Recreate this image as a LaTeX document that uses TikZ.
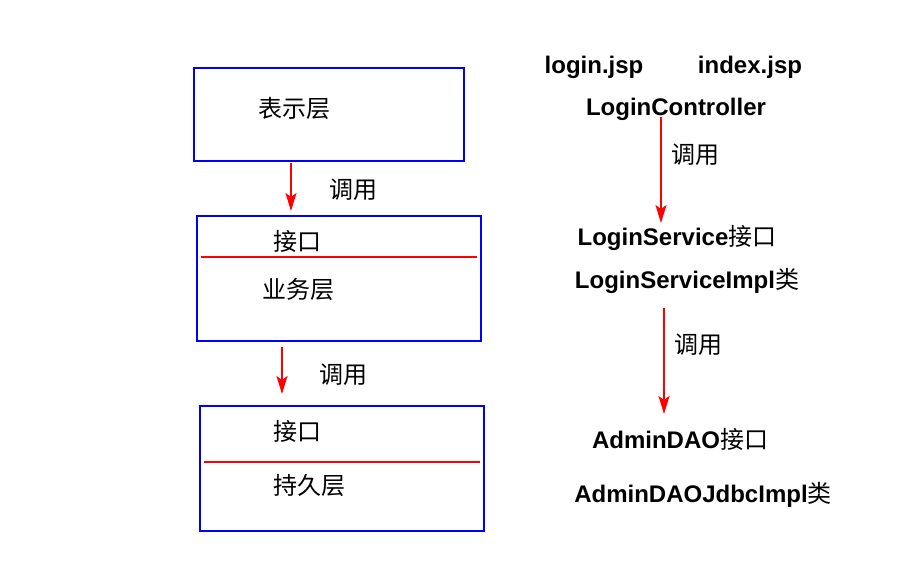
\documentclass[tikz,border=0pt]{standalone}
\usepackage{fontspec}
\setmainfont{Liberation Sans}
\newfontfamily\cjk{Noto Sans CJK SC}
\usetikzlibrary{arrows.meta}
\begin{document}
\begin{tikzpicture}[x=1pt,y=-1pt,
  layer/.style={draw=blue,line width=2.6pt},
  divider/.style={draw=red,line width=2.6pt},
  call/.style={draw=red,line width=2.2pt,-{Stealth[length=18pt,width=11pt,inset=4pt]}},
  cn/.style={font=\cjk\fontsize{24}{27}\selectfont,inner sep=0pt},
  en/.style={font=\bfseries\fontsize{24}{27}\selectfont,inner sep=0pt}]
\fill[white] (0,0) rectangle (900,560);
\useasboundingbox (0,0) rectangle (900,560);
% left column
\draw[layer] (194,68) rectangle (464,161);
\draw[layer] (197,216) rectangle (481,341);
\draw[layer] (200,406) rectangle (484,531);
\draw[divider] (201,257) -- (477,257);
\draw[divider] (204,462) -- (480,462);
\node[cn] (pres) at (294,108) {表示层};
\node[cn] (if1) at (297,241) {接口};
\node[cn] (biz) at (298,289) {业务层};
\node[cn] (if2) at (297,431) {接口};
\node[cn] (pers) at (309,485) {持久层};
\coordinate (a1s) at (291,163);
\coordinate (a1e) at (291,211);
\coordinate (a2s) at (282,347);
\coordinate (a2e) at (282,394);
\draw[call] (a1s) -- (a1e);
\draw[call] (a2s) -- (a2e);
\node[cn] (c1) at (353,190) {调用};
\node[cn] (c2) at (343,375) {调用};
% right column
\node[en] (login) at (594,67) {login.jsp};
\node[en] (index) at (750,67) {index.jsp};
\node[en] (lc) at (676,109) {LoginController};
\node[en] (ls) at (677,238) {LoginService{\cjk\mdseries 接口}};
\node[en] (lsi) at (687,281) {LoginServiceImpl{\cjk\mdseries 类}};
\node[en] (ad) at (680,439) {AdminDAO{\cjk\mdseries 接口}};
\node[en] (adi) at (703,495) {AdminDAOJdbcImpl{\cjk\mdseries 类}};
\coordinate (a3s) at (661,117);
\coordinate (a3e) at (661,223);
\coordinate (a4s) at (664,308);
\coordinate (a4e) at (664,414);
\draw[call] (a3s) -- (a3e);
\draw[call] (a4s) -- (a4e);
\node[cn] (c3) at (695,155) {调用};
\node[cn] (c4) at (698,345) {调用};
\end{tikzpicture}
\end{document}
